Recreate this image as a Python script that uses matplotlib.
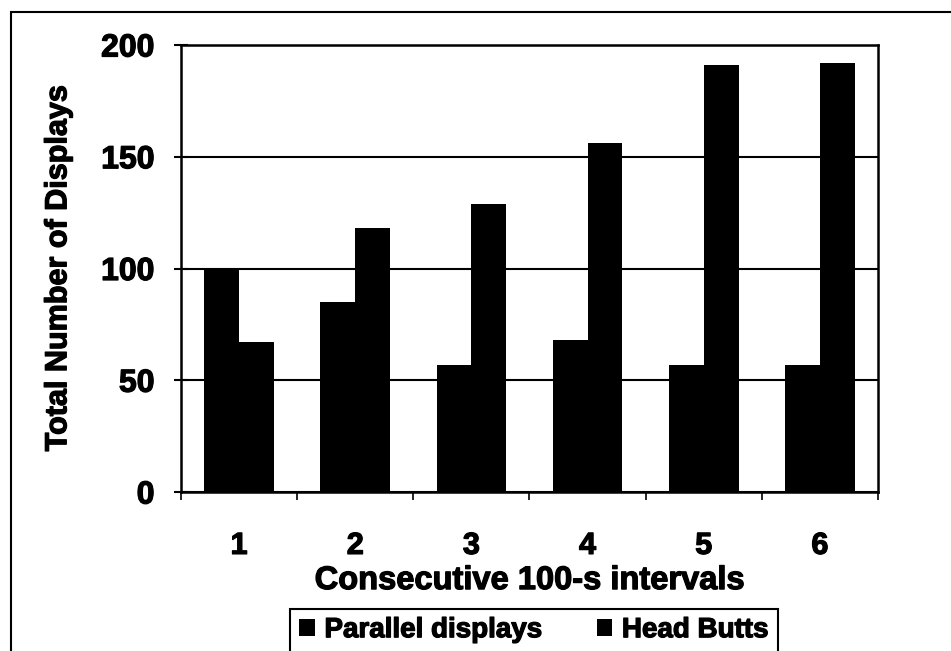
import matplotlib
matplotlib.use("Agg")
import matplotlib.pyplot as plt
import matplotlib.patheffects as pe
from matplotlib.patches import Rectangle
from matplotlib.text import Text

plt.rcParams["font.family"] = ["Liberation Sans", "DejaVu Sans"]
plt.rcParams["font.weight"] = "bold"

intervals = ["1", "2", "3", "4", "5", "6"]
parallel = [100, 85, 57, 68, 57, 57]
head_butts = [67, 118, 129, 156, 191, 192]

fig = plt.figure(figsize=(9.51, 6.51), dpi=100)
ax = fig.add_axes([0.1903, 0.2442, 0.7329, 0.6867])

x = list(range(1, len(intervals) + 1))
w = 0.3
ax.bar([i - w / 2 for i in x], parallel, width=w, color="black", label="Parallel displays")
ax.bar([i + w / 2 for i in x], head_butts, width=w, color="black", label="Head Butts")

ax.set_xlim(0.5, len(intervals) + 0.5)
ax.set_ylim(0, 200)

# horizontal gridlines only
ax.set_yticks([0, 50, 100, 150, 200])
ax.yaxis.grid(True, color="black", linewidth=1.5)
ax.set_axisbelow(True)
ax.tick_params(axis="y", direction="inout", length=10, width=1.5, labelsize=23, pad=14)

# ticks sit between categories, labels at category centres
ax.set_xticks([i + 0.5 for i in range(0, len(intervals) + 1)])
ax.set_xticklabels([])
ax.set_xticks(x, minor=True)
ax.set_xticklabels(intervals, minor=True)
ax.tick_params(axis="x", which="major", direction="out", length=6, width=1.2)
ax.tick_params(axis="x", which="minor", length=0, labelsize=22, pad=28)

for s in ax.spines.values():
    s.set_linewidth(1.8)

ax.set_xlabel("Consecutive 100-s intervals", fontsize=23.5, fontweight="bold", labelpad=3)
ax.set_ylabel("Total Number of Displays", fontsize=22, fontweight="bold", labelpad=20)

# legend box runs off the bottom edge
fig.legend(loc="upper center", bbox_to_anchor=(534 / 951, 0.069), ncol=2,
           frameon=False, fontsize=20, handlelength=0.55, handleheight=0.6,
           handletextpad=0.35, columnspacing=2.0, borderaxespad=0)
fig.patches.append(Rectangle((290 / 951, -0.05), 488 / 951, (651 - 609) / 651 + 0.05,
                             transform=fig.transFigure, fill=False,
                             edgecolor="black", linewidth=1.5))

# outer frame
fig.patches.append(Rectangle((11 / 951, -0.05), 1.05, (651 - 12) / 651 + 0.05,
                             transform=fig.transFigure, fill=False,
                             edgecolor="black", linewidth=1.5))

# heavier lettering
for t in fig.findobj(Text):
    t.set_path_effects([pe.withStroke(linewidth=0.9, foreground="black")])

fig.savefig("out.png", dpi=100)
